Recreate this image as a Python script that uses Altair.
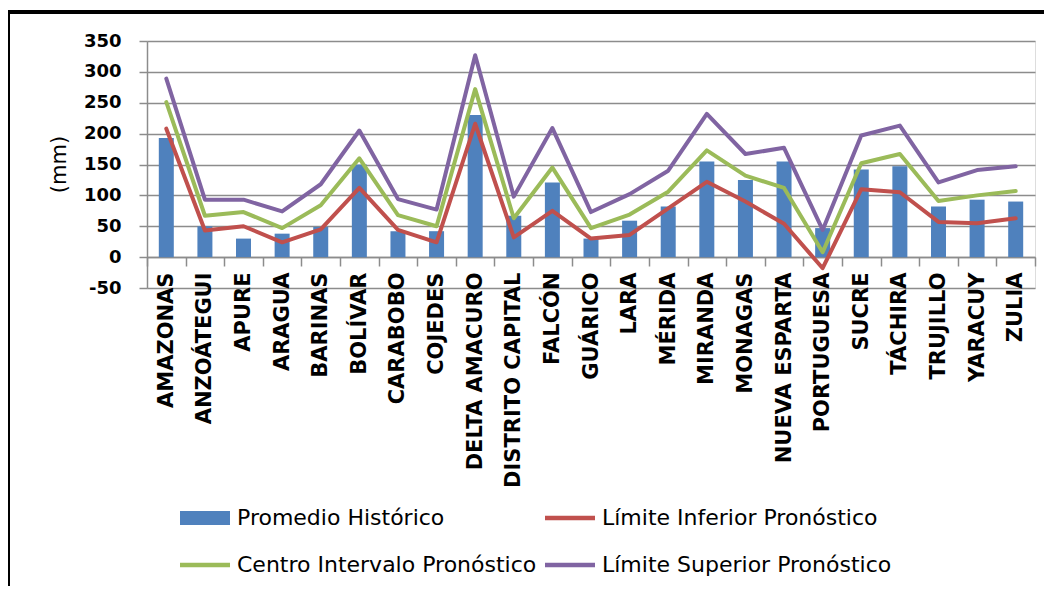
import altair as alt
import pandas as pd

states = ["AMAZONAS", "ANZOÁTEGUI", "APURE", "ARAGUA", "BARINAS", "BOLÍVAR",
          "CARABOBO", "COJEDES", "DELTA AMACURO", "DISTRITO CAPITAL", "FALCÓN",
          "GUÁRICO", "LARA", "MÉRIDA", "MIRANDA", "MONAGAS", "NUEVA ESPARTA",
          "PORTUGUESA", "SUCRE", "TÁCHIRA", "TRUJILLO", "YARACUY", "ZULIA"]
promedio = [193, 50, 30, 38, 49, 150, 42, 42, 230, 67, 121, 30, 59, 82, 155, 125,
            155, 47, 142, 147, 82, 93, 90]
inferior = [208, 43, 50, 24, 45, 112, 44, 24, 216, 32, 75, 30, 36, 79, 122, 90,
            54, -18, 110, 105, 57, 55, 63]
centro = [251, 67, 73, 47, 84, 160, 68, 50, 272, 63, 145, 47, 69, 106, 173, 132,
          112, 8, 152, 167, 91, 100, 107]
superior = [289, 93, 93, 74, 118, 205, 94, 77, 327, 98, 209, 73, 102, 140, 232,
            167, 177, 44, 197, 213, 121, 141, 147]

series_names = ["Promedio Histórico", "Límite Inferior Pronóstico",
                "Centro Intervalo Pronóstico", "Límite Superior Pronóstico"]
series_colors = ["#4F81BD", "#C0504D", "#9BBB59", "#8064A2"]
y_ticks = [-50, 0, 50, 100, 150, 200, 250, 300, 350]

rows = []
for name, vals in zip(series_names, [promedio, inferior, centro, superior]):
    for s, v in zip(states, vals):
        rows.append({"estado": s, "serie": name, "valor": v})
df = pd.DataFrame(rows)

shape_expr = ("datum.value === 'Promedio Histórico' ? "
              "'M-1,-0.28L1,-0.28L1,0.28L-1,0.28Z' : "
              "'M-1,-0.09L1,-0.09L1,0.09L-1,0.09Z'")

color = alt.Color(
    "serie:N",
    scale=alt.Scale(domain=series_names, range=series_colors),
    legend=alt.Legend(
        title=None, orient="none", legendX=33, legendY=452, columns=2,
        direction="horizontal",
        symbolSize=2500, symbolType={"expr": shape_expr},
        symbolFillColor={"expr": "scale('color', datum.value)"},
        symbolStrokeWidth=0, symbolOpacity=1,
        labelFont="DejaVu Sans", labelFontSize=22,
        labelColor="#000000", labelOffset=7, columnPadding=8, rowPadding=11,
        labelLimit=600, padding=0),
)

x = alt.X("estado:N", sort=states, title=None,
          scale=alt.Scale(paddingInner=0, paddingOuter=0),
          axis=alt.Axis(offset=-31, labelAngle=-90, labelFont="DejaVu Sans",
                        labelFontSize=21, labelFontWeight="bold", labelColor="#000000",
                        labelPadding=6, tickBand="extent", tickSize=9,
                        tickColor="#8c8c8c", domainColor="#8c8c8c", domainWidth=1.5,
                        tickWidth=1.5, grid=False, labelLimit=400))
y = alt.Y("valor:Q", title="(mm)",
          scale=alt.Scale(domain=[-50, 350], nice=False),
          axis=alt.Axis(values=y_ticks, labelExpr="datum.value + ''",
                        labelFont="DejaVu Sans", labelFontSize=18,
                        labelFontWeight="bold", labelColor="#000000", labelPadding=18,
                        tickSize=8, tickColor="#8c8c8c", tickWidth=1.5,
                        domainColor="#8c8c8c", domainWidth=1.5,
                        gridColor="#8c8c8c", gridWidth=1.5,
                        titleFont="DejaVu Sans", titleFontSize=21,
                        titleFontWeight="normal", titleColor="#000000",
                        titleAngle=-90, titleX=-88, titleY=123,
                        titleAlign="center", titleBaseline="middle"))

base = alt.Chart(df)
bars = base.transform_filter(alt.datum.serie == series_names[0]).mark_bar(size=15).encode(
    x=x, y=y, color=color)
lines = base.transform_filter(alt.datum.serie != series_names[0]).mark_line(
    strokeWidth=4, strokeJoin="round", strokeCap="round").encode(
    x=x, y=y, color=color)

frame_df = pd.DataFrame({"k": [0]})
left_border = alt.Chart(frame_df).mark_rule(color="#000000", strokeWidth=4).encode(
    x=alt.value(-139), y=alt.value(-31), y2=alt.value(600))
top_border = alt.Chart(frame_df).mark_rule(color="#000000", strokeWidth=4).encode(
    x=alt.value(-141), x2=alt.value(1000), y=alt.value(-29))

chart = alt.layer(bars, lines, left_border, top_border).properties(
    width=888, height=247,
    padding={"left": 139, "top": 33, "right": 9, "bottom": 298},
    autosize=alt.AutoSizeParams(type="none"),
).configure_view(stroke=None).configure(background="white")

chart.save("out.html", embed_options={"renderer": "svg", "actions": False})
